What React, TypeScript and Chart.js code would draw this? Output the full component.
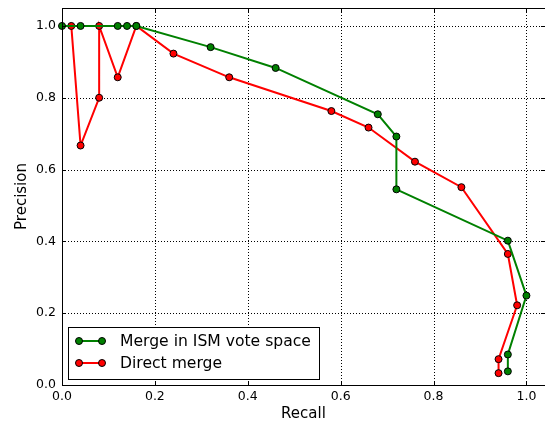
import React, { useEffect, useRef } from "react";
import { Chart, registerables } from "chart.js";

Chart.register(...registerables);

const seriesNames = ["Merge in ISM vote space", "Direct merge"];
const seriesColors = ["#008000", "#ff0000"];

const ismRecall = [0.0, 0.04, 0.12, 0.14, 0.16, 0.32, 0.46, 0.68, 0.72, 0.72, 0.96, 1.0, 0.96, 0.96];
const ismPrecision = [1.0, 1.0, 1.0, 1.0, 1.0, 0.941, 0.883, 0.754, 0.692, 0.545, 0.402, 0.249, 0.085, 0.038];

const directRecall = [0.02, 0.04, 0.08, 0.08, 0.12, 0.16, 0.24, 0.36, 0.58, 0.66, 0.76, 0.86, 0.96, 0.98, 0.94, 0.94];
const directPrecision = [1.0, 0.667, 0.8, 1.0, 0.857, 1.0, 0.923, 0.857, 0.763, 0.717, 0.622, 0.551, 0.365, 0.222, 0.072, 0.033];

const xTicks = [0.0, 0.2, 0.4, 0.6, 0.8, 1.0];
const yTicks = [0.0, 0.2, 0.4, 0.6, 0.8, 1.0];

const FONT = "'DejaVu Sans', sans-serif";

const gridPlugin = {
  id: "dotgrid",
  beforeDatasetsDraw(chart: any) {
    const { ctx, chartArea } = chart;
    const { left, right, top, bottom } = chartArea;
    const xs = chart.scales.x;
    const ys = chart.scales.y;
    ctx.save();
    ctx.strokeStyle = "#000";
    ctx.lineWidth = 1;
    ctx.setLineDash([1, 2]);
    ctx.beginPath();
    xTicks.forEach((v) => {
      const px = Math.round(xs.getPixelForValue(v)) + 0.5;
      ctx.moveTo(px, bottom);
      ctx.lineTo(px, top);
    });
    yTicks.forEach((v) => {
      const py = Math.round(ys.getPixelForValue(v)) + 0.5;
      ctx.moveTo(left, py);
      ctx.lineTo(right, py);
    });
    ctx.stroke();
    ctx.restore();
  },
};

const framePlugin = {
  id: "frame",
  afterDraw(chart: any) {
    const { ctx, chartArea } = chart;
    const { left, right, top, bottom } = chartArea;
    const xs = chart.scales.x;
    const ys = chart.scales.y;
    ctx.save();
    ctx.strokeStyle = "#000";
    ctx.lineWidth = 1;
    ctx.setLineDash([]);
    ctx.beginPath();
    ctx.moveTo(left + 0.5, bottom + 0.5);
    ctx.lineTo(left + 0.5, top + 0.5);
    ctx.lineTo(right, top + 0.5);
    ctx.moveTo(left, bottom + 0.5);
    ctx.lineTo(right, bottom + 0.5);
    ctx.stroke();
    ctx.beginPath();
    xTicks.forEach((v) => {
      const px = Math.round(xs.getPixelForValue(v)) + 0.5;
      ctx.moveTo(px, bottom);
      ctx.lineTo(px, bottom - 4);
      ctx.moveTo(px, top);
      ctx.lineTo(px, top + 4);
    });
    yTicks.forEach((v) => {
      const py = Math.round(ys.getPixelForValue(v)) + 0.5;
      ctx.moveTo(left, py);
      ctx.lineTo(left + 4, py);
      ctx.moveTo(right, py);
      ctx.lineTo(right - 4, py);
    });
    ctx.stroke();

    // legend
    const bx = 68.5, by = 327.5, bw = 251, bh = 52;
    ctx.fillStyle = "#fff";
    ctx.fillRect(bx, by, bw, bh);
    ctx.strokeRect(bx, by, bw, bh);
    const rows = [341, 363];
    rows.forEach((ry, i) => {
      const col = seriesColors[i];
      ctx.strokeStyle = col;
      ctx.lineWidth = 2;
      ctx.beginPath();
      ctx.moveTo(79, ry);
      ctx.lineTo(102, ry);
      ctx.stroke();
      [79, 102].forEach((mx) => {
        ctx.beginPath();
        ctx.arc(mx, ry, 3.5, 0, Math.PI * 2);
        ctx.fillStyle = col;
        ctx.fill();
        ctx.lineWidth = 1;
        ctx.strokeStyle = "#000";
        ctx.stroke();
      });
      ctx.fillStyle = "#000";
      ctx.font = `15.6px ${FONT}`;
      ctx.textBaseline = "middle";
      ctx.textAlign = "left";
      ctx.fillText(seriesNames[i], 120, ry + 1);
    });
    ctx.restore();
  },
};

export default function App() {
  const ref = useRef<HTMLCanvasElement>(null);
  useEffect(() => {
    if (!ref.current) return;
    const mk = (xs: number[], ys: number[]) => xs.map((x, i) => ({ x, y: ys[i] }));
    const ds = (i: number, data: any[]) => ({
      label: seriesNames[i],
      data,
      showLine: true,
      borderColor: seriesColors[i],
      backgroundColor: seriesColors[i],
      borderWidth: 2,
      pointRadius: 3.5,
      pointBorderColor: "#000",
      pointBackgroundColor: seriesColors[i],
      pointBorderWidth: 1,
      clip: false,
    });
    const chart = new Chart(ref.current, {
      type: "scatter",
      data: {
        datasets: [ds(0, mk(ismRecall, ismPrecision)), ds(1, mk(directRecall, directPrecision))],
      },
      options: {
        animation: false,
        responsive: false,
        devicePixelRatio: 1,
        layout: { autoPadding: false, padding: { top: 8, right: 0, left: 0, bottom: 0 } },
        plugins: { legend: { display: false }, tooltip: { enabled: false } },
        scales: {
          x: {
            type: "linear",
            min: 0,
            max: 1.04,
            afterFit: (s: any) => { s.height = 38; s.paddingLeft = 0; s.paddingRight = 0; },
            afterBuildTicks: (s: any) => { s.ticks = xTicks.map((v) => ({ value: v })); },
            ticks: {
              color: "#000",
              font: { family: FONT, size: 12.5 },
              padding: 4,
              callback: (v: any) => Number(v).toFixed(1),
              maxRotation: 0,
            },
            grid: { display: false, drawTicks: false, tickLength: 0 },
            border: { display: false },
            title: {
              display: true,
              text: "Recall",
              color: "#000",
              font: { family: FONT, size: 15 },
              padding: { top: 0, bottom: 0 },
            },
          },
          y: {
            type: "linear",
            min: 0,
            max: 1.05,
            afterFit: (s: any) => { s.width = 62; s.paddingTop = 0; s.paddingBottom = 0; },
            afterBuildTicks: (s: any) => { s.ticks = yTicks.map((v) => ({ value: v })); },
            ticks: {
              color: "#000",
              font: { family: FONT, size: 12.5 },
              padding: 6,
              callback: (v: any) => Number(v).toFixed(1),
            },
            grid: { display: false, drawTicks: false, tickLength: 0 },
            border: { display: false },
            title: {
              display: true,
              text: "Precision",
              color: "#000",
              font: { family: FONT, size: 15 },
              padding: { top: 13, bottom: 0 },
            },
          },
        },
      },
      plugins: [gridPlugin, framePlugin],
    });
    return () => chart.destroy();
  }, []);
  return (
    <div style={{ position: "fixed", left: 0, top: 0, width: 545, height: 423, background: "#fff" }}>
      <canvas ref={ref} width={545} height={423} />
    </div>
  );
}
